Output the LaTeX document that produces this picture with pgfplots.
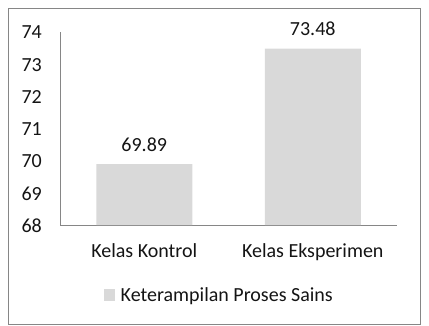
\documentclass[border=0pt]{standalone}
\usepackage{pgfplots}
\pgfplotsset{compat=1.18}
\usepackage{fontspec}
\setmainfont{Carlito}
\definecolor{barc}{HTML}{D9D9D9}
\definecolor{axc}{HTML}{868686}
\definecolor{txt}{HTML}{141414}
\begin{document}
\begin{tikzpicture}[x=1bp,y=1bp]
\useasboundingbox (0,0) rectangle (429,326);
\draw[axc, line width=1bp] (8,2) rectangle (420,317);
\begin{axis}[
  at={(60bp,101bp)}, anchor=south west,
  scale only axis, width=337bp, height=193bp,
  xmin=-0.5, xmax=1.5, ymin=68, ymax=74,
  ybar, bar width=96bp,
  axis x line*=bottom, axis y line*=left,
  axis line style={axc, line width=1bp, -},
  major tick length=0pt,
  xtick={0,1}, xticklabels={Kelas Kontrol, Kelas Eksperimen},
  ytick={68,69,70,71,72,73,74},
  /pgf/number format/assume math mode=true,
  font=\fontsize{20bp}{22bp}\selectfont,
  every tick label/.append style={txt},
  yticklabel style={anchor=east, inner sep=0pt, xshift=-18bp, yshift=-0.5bp},
  xticklabel style={anchor=base, inner sep=0pt, yshift=-32bp},
  nodes near coords,
  nodes near coords style={anchor=base, inner sep=0pt, yshift=13bp, txt, /pgf/number format/.cd, fixed, precision=2, fixed zerofill},
  legend style={at={(0.1306,-0.3627)}, anchor=west, draw=none, fill=none, inner sep=0pt,
    font=\fontsize{20bp}{22bp}\selectfont, text=txt,
    nodes={inner sep=0pt}},
  legend image code/.code={\fill[barc] (0bp,-5.5bp) rectangle (10.5bp,5.5bp); \path (16.5bp,0bp);},
  clip=false,
]
\addplot[fill=barc, draw=none] coordinates {(0,69.89) (1,73.48)};
\addlegendentry{Keterampilan Proses Sains}
\end{axis}
\end{tikzpicture}
\end{document}
